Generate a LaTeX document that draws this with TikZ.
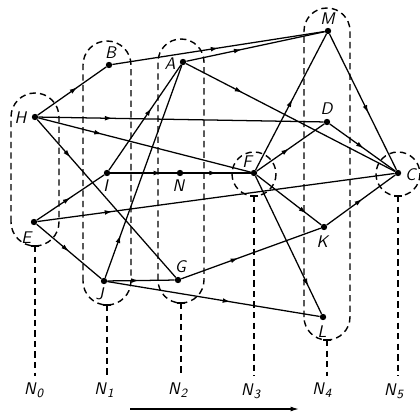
\documentclass[tikz,border=0pt]{standalone}
\usetikzlibrary{arrows.meta,decorations.markings}
\newcommand{\lab}[1]{\textsf{\textsl{#1}}}
\newcommand{\nlab}[1]{\lab{N}\raisebox{-0.45ex}{\small\lab{#1}}}
\begin{document}
\begin{tikzpicture}[x=0.025cm,y=-0.025cm,
  vtx/.style={circle,fill=black,inner sep=0pt,minimum size=0.16cm},
  lbl/.style={inner sep=0pt,font=\large},
  edge/.style={line width=0.9pt},
  midarrow/.style={postaction={decorate},decoration={markings,
     mark=at position #1 with {\arrow{Latex[length=5.5pt,width=3.4pt]}}}},
  grp/.style={line width=1pt,dash pattern=on 4.5pt off 3pt},
  drop/.style={line width=1pt,dash pattern=on 4.5pt off 3pt}]
\useasboundingbox (0,0) rectangle (420,413);

% vertices
\node[vtx] (H) at (35,117) {};
\node[vtx] (B) at (109,65) {};
\node[vtx] (A) at (183,62) {};
\node[vtx] (M) at (328,31) {};
\node[vtx] (D) at (327,122) {};
\node[vtx] (I) at (107,173) {};
\node[vtx] (N) at (180,173) {};
\node[vtx] (F) at (254,173) {};
\node[vtx] (C) at (398,173) {};
\node[vtx] (E) at (34,222) {};
\node[vtx] (K) at (324,227) {};
\node[vtx] (J) at (104,281) {};
\node[vtx] (G) at (178,280) {};
\node[vtx] (L) at (323,317) {};

% labels
\node[lbl] (lH) at (21,118) {\lab{H}};
\node[lbl] (lB) at (111,53) {\lab{B}};
\node[lbl] (lA) at (170,64) {\lab{A}};
\node[lbl] (lM) at (328,19) {\lab{M}};
\node[lbl] (lD) at (327,109) {\lab{D}};
\node[lbl] (lI) at (106,186) {\lab{I}};
\node[lbl] (lN) at (179,186) {\lab{N}};
\node[lbl] (lF) at (248,162) {\lab{F}};
\node[lbl] (lC) at (411,175) {\lab{C}};
\node[lbl] (lE) at (27,238) {\lab{E}};
\node[lbl] (lK) at (323,242) {\lab{K}};
\node[lbl] (lJ) at (100,294) {\lab{J}};
\node[lbl] (lG) at (181,267) {\lab{G}};
\node[lbl] (lL) at (322,332) {\lab{L}};

% group outlines
\draw[grp] (11,222) -- (11,117) arc[start angle=180,end angle=360,radius=24]
   -- (59,222) arc[start angle=0,end angle=180,radius=24];
\draw[grp] (83,281) -- (83,65) arc[start angle=180,end angle=360,radius=24]
   -- (131,281) arc[start angle=0,end angle=180,radius=24];
\draw[grp] (158,280) -- (158,62) arc[start angle=180,end angle=360,radius=23]
   -- (204,280) arc[start angle=0,end angle=180,radius=23];
\draw[grp] (254,174) circle[radius=22];
\draw[grp] (304,317) -- (304,31) arc[start angle=180,end angle=360,radius=23]
   -- (350,317) arc[start angle=0,end angle=180,radius=23];
\draw[grp] (398,174) circle[radius=22];

% drop lines and level labels
\coordinate (t0) at (35,246);
\coordinate (t1) at (107,305);
\coordinate (t2) at (181,303);
\coordinate (t3) at (254,196);
\coordinate (t4) at (327,340);
\coordinate (t5) at (398,196);
\node[lbl] (N0) at (34,390) {\nlab{0}};
\node[lbl] (N1) at (104,390) {\nlab{1}};
\node[lbl] (N2) at (178,390) {\nlab{2}};
\node[lbl] (N3) at (251,391) {\nlab{3}};
\node[lbl] (N4) at (322,390) {\nlab{4}};
\node[lbl] (N5) at (394,391) {\nlab{5}};
\foreach \t/\n in {t0/N0,t1/N1,t2/N2,t3/N3,t4/N4,t5/N5}{
  \draw[line width=1pt] ([xshift=-0.1cm]\t) -- ([xshift=0.1cm]\t);
  \draw[drop] (\t) -- (\t |- {(0,376)});
}

% edges
\draw[edge,midarrow=0.58] (H) -- (B);
\draw[edge,midarrow=0.5] (B) -- (M);
\draw[edge,midarrow=0.4] (A) -- (M);
\draw[edge,midarrow=0.27] (A) -- (C);
\draw[edge,midarrow=0.26] (H) -- (D);
\draw[edge,midarrow=0.3] (H) -- (F);
\draw[edge,midarrow=0.24] (H) -- (G);
\draw[edge,midarrow=0.5] (E) -- (I);
\draw[edge,midarrow=0.21] (E) -- (C);
\draw[edge,midarrow=0.5] (E) -- (J);
\draw[edge,midarrow=0.77] (I) -- (N);
\draw[edge,midarrow=0.5] (N) -- (F);
\draw[edge,midarrow=0.59] (I) -- (A);
\draw[edge,midarrow=0.2] (J) -- (A);
\draw[edge,midarrow=0.47] (J) -- (G);
\draw[edge,midarrow=0.58] (J) -- (L);
\draw[edge,midarrow=0.41] (G) -- (K);
\draw[edge,midarrow=0.52] (K) -- (C);
\draw[edge,midarrow=0.52] (F) -- (M);
\draw[edge,midarrow=0.48] (F) -- (D);
\draw[edge,midarrow=0.77] (F) -- (K);
\draw[edge,midarrow=0.8] (F) -- (L);
\draw[edge,midarrow=0.52] (D) -- (C);
\draw[edge,midarrow=0.58] (M) -- (C);

% direction arrow
\coordinate (arS) at (130,409);
\coordinate (arE) at (299,409);
\draw[line width=0.9pt,-{Latex[length=6pt,width=3.5pt]}] (arS) -- (arE);
\end{tikzpicture}
\end{document}
